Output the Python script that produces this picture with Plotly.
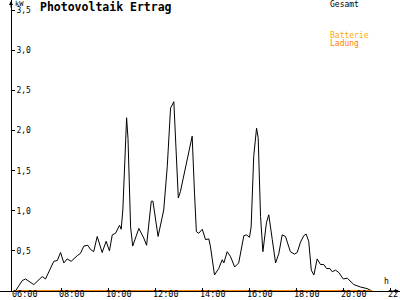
import plotly.graph_objects as go

# ---- data ----
hours = [6.04, 6.33, 6.47, 6.82, 7.18, 7.32, 7.67, 7.82, 7.96, 8.10, 8.24, 8.41, 8.67, 8.81,
         8.95, 9.12, 9.23, 9.37, 9.52, 9.73, 9.90, 10.04, 10.16, 10.30, 10.47, 10.54, 10.61,
         10.70, 10.77, 10.83, 10.94, 11.03, 11.29, 11.50, 11.62, 11.82, 11.89, 12.11, 12.35,
         12.50, 12.64, 12.78, 12.97, 13.06, 13.56, 13.66, 13.74, 13.84, 13.99, 14.13, 14.27,
         14.34, 14.51, 14.69, 14.84, 14.91, 15.05, 15.19, 15.37, 15.54, 15.76, 15.87, 16.00,
         16.07, 16.18, 16.30, 16.37, 16.47, 16.57, 16.72, 16.82, 16.97, 17.11, 17.25, 17.39,
         17.53, 17.74, 17.91, 18.03, 18.17, 18.31, 18.41, 18.52, 18.63, 18.74, 18.88, 19.02,
         19.16, 19.28, 19.42, 19.52, 19.66, 19.80, 19.99, 20.16, 20.44, 20.72, 21.00, 21.22]
gesamt_kw = [0.00, 0.13, 0.15, 0.08, 0.18, 0.15, 0.37, 0.38, 0.48, 0.35, 0.40, 0.37, 0.44, 0.47,
             0.56, 0.57, 0.52, 0.49, 0.68, 0.48, 0.62, 0.50, 0.70, 0.72, 0.82, 0.77, 1.01,
             1.80, 2.16, 1.90, 0.80, 0.56, 0.78, 0.66, 0.57, 1.12, 1.12, 0.68, 1.01,
             1.55, 2.28, 2.36, 1.16, 1.24, 1.93, 1.22, 0.74, 0.72, 0.77, 0.64, 0.65,
             0.55, 0.20, 0.28, 0.39, 0.35, 0.49, 0.43, 0.30, 0.35, 0.69, 0.70, 0.67,
             0.80, 1.68, 2.03, 1.91, 0.93, 0.49, 0.85, 0.95, 0.64, 0.35, 0.47, 0.70,
             0.68, 0.49, 0.46, 0.48, 0.61, 0.69, 0.71, 0.62, 0.26, 0.20, 0.40, 0.33,
             0.33, 0.28, 0.28, 0.24, 0.26, 0.23, 0.15, 0.16, 0.08, 0.05, 0.03, 0.00]
ladung_hours = [6.0, 21.2]
ladung_kw = [0.0, 0.0]

x_tick_hours = [6, 8, 10, 12, 14, 16, 18, 20, 22]
x_tick_labels = ["06:00", "08:00", "10:00", "12:00", "14:00", "16:00", "18:00", "20:00", "22:00"]
y_tick_values = [0.5, 1.0, 1.5, 2.0, 2.5, 3.0, 3.5]

title_text = "Photovoltaik Ertrag"
unit_text = "kW"
legend_gesamt = "Gesamt"
legend_batterie = "Batterie"
legend_ladung = "Ladung"

# ---- layout geometry ----
W, H = 400, 300
BOTTOM = 9
PLOT_H = H - BOTTOM
PX_PER_H = 23.5
X06 = 14.5
PX_PER_KW = 80.2
x_range = [6 + (0 - X06) / PX_PER_H, 6 + (W - X06) / PX_PER_H]
y_range = [0, PLOT_H / PX_PER_KW]
YAXIS_X = 11

def px(xp):
    return xp / W

def py(yp):
    return (PLOT_H - yp) / PLOT_H

FONT = "DejaVu Sans Mono"
ORANGE = "#ff8000"
YELLOW = "#ffaa00"

fig = go.Figure()
fig.add_trace(go.Scatter(x=hours, y=gesamt_kw, mode="lines",
                         line=dict(color="black", width=1), hoverinfo="skip"))
fig.add_trace(go.Scatter(x=ladung_hours, y=ladung_kw, mode="lines",
                         line=dict(color=ORANGE, width=2), hoverinfo="skip", cliponaxis=False))

axis_common = dict(showgrid=False, zeroline=False, showline=True, linecolor="black",
                   linewidth=1, tickcolor="black", tickwidth=1, ticklen=3)

fig.update_layout(
    width=W, height=H, margin=dict(l=0, r=0, t=0, b=BOTTOM),
    paper_bgcolor="white", plot_bgcolor="white", showlegend=False,
    separators=",.",
    font=dict(family=FONT, size=8, color="black"),
    xaxis=dict(range=x_range, domain=[0, 1], tickvals=x_tick_hours,
               ticks="inside", showticklabels=False, anchor="y", **axis_common),
    xaxis2=dict(range=x_range, domain=[0, 1], overlaying="x", anchor="y", side="bottom",
                tickvals=x_tick_hours, ticks="outside", showticklabels=False, **axis_common),
    yaxis=dict(range=y_range, tickvals=y_tick_values, tickformat=".1f",
               ticks="inside", ticklabelposition="inside", anchor="free", position=px(YAXIS_X),
               tickfont=dict(family=FONT, size=8, color="black"), **axis_common),
    yaxis2=dict(range=y_range, overlaying="y", anchor="free", position=px(YAXIS_X),
                tickvals=y_tick_values, ticks="outside", showticklabels=False, **axis_common),
)

# x tick labels (left-aligned near each tick, as in the reference)
for h, lab in zip(x_tick_hours, x_tick_labels):
    fig.add_annotation(x=h, y=py(300), xref="x", yref="paper", text=lab, showarrow=False,
                       xanchor="left", yanchor="bottom", xshift=-4, borderpad=0,
                       font=dict(family=FONT, size=8.5, color="black"))

fig.add_annotation(x=px(39), y=py(-1), xref="paper", yref="paper", text="<b>" + title_text + "</b>",
                   showarrow=False, xanchor="left", yanchor="top", borderpad=0,
                   font=dict(family=FONT, size=11.5, color="black"))
fig.add_annotation(x=px(14), y=py(-1), xref="paper", yref="paper", text=unit_text,
                   showarrow=False, xanchor="left", yanchor="top", borderpad=0,
                   font=dict(family=FONT, size=7, color="black"))
fig.add_annotation(x=px(329), y=py(-1), xref="paper", yref="paper", text=legend_gesamt,
                   showarrow=False, xanchor="left", yanchor="top", borderpad=0,
                   font=dict(family=FONT, size=8, color="black"))
fig.add_annotation(x=px(329), y=py(30), xref="paper", yref="paper", text=legend_batterie,
                   showarrow=False, xanchor="left", yanchor="top", borderpad=0,
                   font=dict(family=FONT, size=8, color=YELLOW))
fig.add_annotation(x=px(329), y=py(38), xref="paper", yref="paper", text=legend_ladung,
                   showarrow=False, xanchor="left", yanchor="top", borderpad=0,
                   font=dict(family=FONT, size=8, color=ORANGE))
fig.add_annotation(x=px(386), y=py(281), xref="paper", yref="paper", text="h",
                   showarrow=False, xanchor="center", yanchor="middle", borderpad=0,
                   font=dict(family=FONT, size=8, color="black"))
# axis arrows
fig.add_annotation(x=px(YAXIS_X), y=py(1), xref="paper", yref="paper", text="",
                   showarrow=True, ax=0, ay=8, arrowhead=2, arrowsize=0.8, arrowwidth=1,
                   arrowcolor="black")
fig.add_annotation(x=px(399), y=py(PLOT_H), xref="paper", yref="paper", text="",
                   showarrow=True, ax=-8, ay=0, arrowhead=2, arrowsize=0.8, arrowwidth=1,
                   arrowcolor="black")

fig.write_html("out.html")
